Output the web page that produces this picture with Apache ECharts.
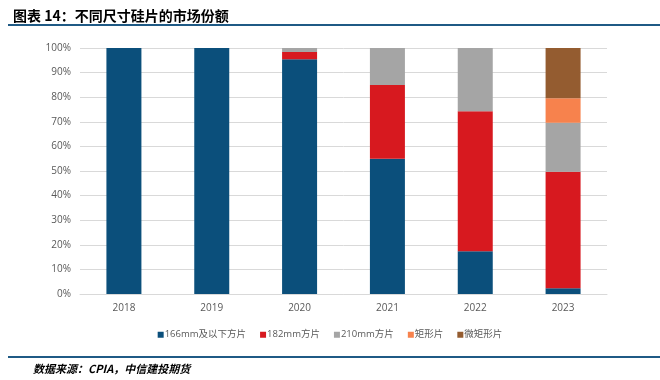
<!DOCTYPE html>
<html><head><meta charset="utf-8">
<script src="https://cdn.jsdelivr.net/npm/echarts@6/dist/echarts.min.js"></script>
<style>html,body{margin:0;padding:0;background:#fff}#c{width:660px;height:380px}</style>
</head><body><div id="c"></div>
<script>
const categories = ['2018','2019','2020','2021','2022','2023'];
const s166 = [100, 100, 95.4, 55.0, 17.4, 2.3];
const s182 = [0, 0, 3.0, 30.0, 56.9, 47.4];
const s210 = [0, 0, 1.6, 15.0, 25.7, 19.9];
const sRect = [0, 0, 0, 0, 0, 10.0];
const sMicro = [0, 0, 0, 0, 0, 20.4];
const seriesNames = ['166mm及以下方片','182mm方片','210mm方片','矩形片','微矩形片'];
const yTicks = [0,10,20,30,40,50,60,70,80,90,100];

const colors = ['#0B4F7B','#D7191F','#A5A5A5','#F7824D','#945C30'];
const dataSets = [s166, s182, s210, sRect, sMicro];
const chart = echarts.init(document.getElementById('c'));
const font = '"Open Sans","Noto Sans CJK SC",sans-serif';
chart.setOption({
  animation: false,
  color: colors,
  title: {
    text: '图表 14：不同尺寸硅片的市场份额',
    left: 8, top: 4,
    textStyle: {fontSize: 14, fontWeight: 'bold', color: '#000', fontFamily: '"Noto Sans CJK SC",serif'}
  },
  grid: {left: 80, right: 53, top: 48, bottom: 86},
  legend: {
    top: 325, left: 'center',
    itemWidth: 6, itemHeight: 6, itemGap: 14,
    icon: 'rect',
    textStyle: {fontSize: 9.5, color: '#595959', fontFamily: font, padding: [0,0,0,-4]},
    data: seriesNames
  },
  xAxis: {
    type: 'category', data: categories,
    axisLine: {lineStyle: {color: '#D9D9D9'}},
    axisTick: {show: false},
    axisLabel: {fontSize: 10, color: '#595959', margin: 9, fontFamily: font}
  },
  yAxis: {
    type: 'value', min: 0, max: 100, interval: 10,
    axisLine: {show: false}, axisTick: {show: false},
    splitLine: {lineStyle: {color: '#D9D9D9'}},
    axisLabel: {fontSize: 10, color: '#595959', margin: 9, fontFamily: font,
      formatter: v => yTicks.includes(v) ? v + '%' : ''}
  },
  series: dataSets.map((d, i) => ({
    name: seriesNames[i], type: 'bar', stack: 'total', barWidth: 35,
    data: d, itemStyle: {color: colors[i]}
  })),
  graphic: [
    {type: 'rect', shape: {x: 8, y: 24, width: 652, height: 2}, style: {fill: '#1F5A85'}},
    {type: 'rect', shape: {x: 8, y: 356, width: 652, height: 2}, style: {fill: '#1F5A85'}},
    {type: 'text', left: 33, top: 363,
      style: {text: '数据来源：CPIA，中信建投期货', fontSize: 11, fontWeight: 'bold', fontStyle: 'italic',
        fill: '#000', fontFamily: '"Noto Sans CJK SC",serif'}}
  ]
});
</script></body></html>
